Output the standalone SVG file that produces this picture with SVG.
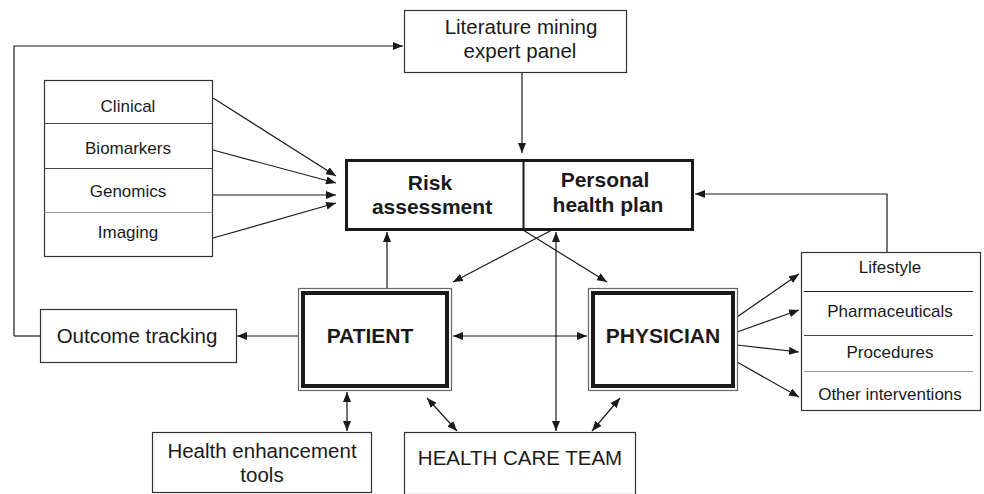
<svg xmlns="http://www.w3.org/2000/svg" width="984" height="494" viewBox="0 0 984 494">
<defs>
<marker id="ah" viewBox="0 0 10 8" refX="10" refY="4" markerWidth="10" markerHeight="8" markerUnits="userSpaceOnUse" orient="auto-start-reverse">
<path d="M0,0 L10,4 L0,8 z" fill="#1a1a1a"/>
</marker>
<style>
.box{fill:#fff;stroke:#333;stroke-width:1.2}
.thick{fill:#fff;stroke:#1a1a1a;stroke-width:3}
.outer{fill:#fff;stroke:#666;stroke-width:1.2}
.inner{fill:none;stroke:#1a1a1a;stroke-width:4}
.div{stroke:#444;stroke-width:1}
.divl{stroke:#999;stroke-width:1}
.t{font-family:"Liberation Sans",Arial,sans-serif;fill:#1a1a1a;text-anchor:middle}
.s17{font-size:17px}
.s20{font-size:20.5px}
.b{font-size:21px;font-weight:bold}
.c{fill:none;stroke:#1a1a1a;stroke-width:1.2}
.a{marker-end:url(#ah)}
.aa{marker-start:url(#ah);marker-end:url(#ah)}
</style>
</defs>
<g id="connectors">
<polyline class="c a" points="14,336 14,46 403,46"/>
<line class="c" x1="14" y1="336" x2="40" y2="336"/>
<line class="c a" x1="522" y1="72" x2="522" y2="153"/>
<line class="c a" x1="213" y1="98" x2="336" y2="176"/>
<line class="c a" x1="213" y1="150" x2="336" y2="183"/>
<line class="c a" x1="213" y1="195" x2="336" y2="195"/>
<line class="c a" x1="213" y1="238" x2="336" y2="203"/>
<polyline class="c a" points="887,252 887,194 695,194"/>
<line class="c a" x1="387" y1="288" x2="387" y2="232"/>
<line class="c a" x1="552" y1="230" x2="453" y2="282"/>
<line class="c a" x1="523" y1="230" x2="607" y2="282"/>
<line class="c aa" x1="556" y1="232" x2="556" y2="431"/>
<line class="c a" x1="298" y1="336" x2="237" y2="336"/>
<line class="c aa" x1="453" y1="336" x2="587" y2="336"/>
<line class="c aa" x1="347" y1="392" x2="347" y2="431"/>
<line class="c aa" x1="427" y1="398" x2="457" y2="431"/>
<line class="c aa" x1="620" y1="398" x2="592" y2="431"/>
<line class="c a" x1="737" y1="317" x2="799" y2="274"/>
<line class="c a" x1="737" y1="332" x2="799" y2="310"/>
<line class="c a" x1="737" y1="345" x2="799" y2="352"/>
<line class="c a" x1="737" y1="362" x2="799" y2="397"/>
</g>
<g id="literature">
<rect class="box" x="404.5" y="10.5" width="222" height="62"/>
<text class="t s20" x="521" y="34">Literature mining</text>
<text class="t s20" x="520" y="58">expert panel</text>
</g>
<g id="data">
<rect class="box" x="44.5" y="80.5" width="168" height="176"/>
<line class="div" x1="44.5" y1="123.5" x2="212.5" y2="123.5"/>
<line class="div" x1="44.5" y1="168.5" x2="212.5" y2="168.5"/>
<line class="divl" x1="44.5" y1="212.5" x2="212.5" y2="212.5"/>
<text class="t s17" x="128" y="112">Clinical</text>
<text class="t s17" x="128" y="154">Biomarkers</text>
<text class="t s17" x="128" y="197">Genomics</text>
<text class="t s17" x="128" y="238">Imaging</text>
</g>
<g id="risk">
<rect class="thick" x="346.5" y="160.5" width="346" height="69"/>
<line x1="523.5" y1="160" x2="523.5" y2="230" stroke="#1a1a1a" stroke-width="2"/>
<text class="t b" x="430" y="190">Risk</text>
<text class="t b" x="432" y="214">assessment</text>
<text class="t b" x="605" y="187">Personal</text>
<text class="t b" x="608" y="212">health plan</text>
</g>
<g id="patient">
<rect class="outer" x="298.5" y="288.5" width="153" height="102"/>
<rect class="inner" x="303" y="293" width="144" height="93"/>
<text class="t b" x="370" y="343">PATIENT</text>
</g>
<g id="physician">
<rect class="outer" x="588.5" y="288.5" width="149" height="102"/>
<rect class="inner" x="593" y="293" width="140" height="93"/>
<text class="t b" x="663" y="343">PHYSICIAN</text>
</g>
<g id="outcome">
<rect class="box" x="40.5" y="309.5" width="196" height="53"/>
<text class="t s20" x="137" y="343">Outcome tracking</text>
</g>
<g id="tools">
<rect class="box" x="152.5" y="432.5" width="219" height="60"/>
<text class="t s20" x="262" y="458">Health enhancement</text>
<text class="t s20" x="262" y="482">tools</text>
</g>
<g id="team">
<rect class="box" x="404.5" y="432.5" width="231" height="62"/>
<text class="t s20" x="520" y="465">HEALTH CARE TEAM</text>
</g>
<g id="interventions">
<rect class="box" x="801.5" y="252.5" width="179" height="158"/>
<line x1="804" y1="291.5" x2="973" y2="291.5" stroke="#1a1a1a" stroke-width="1.2"/>
<line class="div" x1="804" y1="335.5" x2="973" y2="335.5"/>
<line class="divl" x1="804" y1="371.5" x2="973" y2="371.5"/>
<text class="t s17" x="890" y="273">Lifestyle</text>
<text class="t s17" x="890" y="317">Pharmaceuticals</text>
<text class="t s17" x="890" y="358">Procedures</text>
<text class="t s17" x="890" y="400">Other interventions</text>
</g>
</svg>
